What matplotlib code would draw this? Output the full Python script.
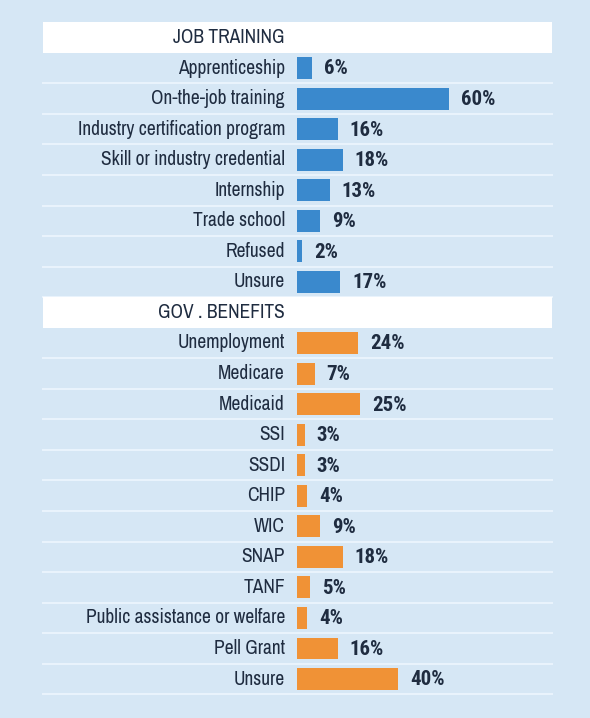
"""Horizontal bar panel: job training and government benefits shares."""

import matplotlib.pyplot as plt

job_labels = [
    "Apprenticeship",
    "On-the-job training",
    "Industry certification program",
    "Skill or industry credential",
    "Internship",
    "Trade school",
    "Refused",
    "Unsure",
]
job_values = [6, 60, 16, 18, 13, 9, 2, 17]

gov_labels = [
    "Unemployment",
    "Medicare",
    "Medicaid",
    "SSI",
    "SSDI",
    "CHIP",
    "WIC",
    "SNAP",
    "TANF",
    "Public assistance or welfare",
    "Pell Grant",
    "Unsure",
]
gov_values = [24, 7, 25, 3, 3, 4, 9, 18, 5, 4, 16, 40]

sections = [
    ("JOB TRAINING", job_labels, job_values, "#3a89cd"),
    ("GOV . BENEFITS", gov_labels, gov_values, "#f09236"),
]

BG = "#d6e7f5"
TEXT = "#1f2c40"
SEP = "#e9f3fc"

FAMILY = ["Archivo Narrow", "DejaVu Sans"]
BOLD_FAMILY = ["Roboto Condensed", "DejaVu Sans"]
FS = 14

fig = plt.figure(figsize=(5.9, 7.18), dpi=100, facecolor=BG)
ax = fig.add_axes([0, 0, 1, 1])
ax.set_facecolor(BG)
ax.axis("off")

# one % of value is ~2.53 px; zero line sits at x=297 px
px_per_pct = 2.533
x0 = 297
ax.set_xlim(-x0 / px_per_pct, (590 - x0) / px_per_pct)
# rows are 30.55 px apart, first row centre at 37 px from top
pitch, top = 30.55, 37.5
ax.set_ylim((718 - top) / pitch, -top / pitch)

band_left = (43 - x0) / px_per_pct
band_right = (552 - x0) / px_per_pct
label_x = (285 - x0) / px_per_pct
gap = 12 / px_per_pct

row = 0
for header, labels, values, color in sections:
    ax.fill_between([band_left, band_right], row - 0.5, row + 0.5, color="white", lw=0, zorder=1)
    ax.text(label_x, row, header, ha="right", va="center", fontsize=FS,
            family=FAMILY, color=TEXT, zorder=3)
    row += 1
    for lab, val in zip(labels, values):
        ax.barh(row, val, height=0.72, color=color, zorder=2)
        ax.text(label_x, row, lab, ha="right", va="center", fontsize=FS,
                family=FAMILY, color=TEXT, zorder=3)
        ax.text(val + gap, row + 0.03, f"{val}%", ha="left", va="center", fontsize=15,
                family=BOLD_FAMILY, fontweight="bold", color=TEXT, zorder=3)
        ax.plot([band_left, band_right], [row + 0.5, row + 0.5], color=SEP, lw=1.5, zorder=1)
        row += 1

fig.savefig("out.png", dpi=100, facecolor=BG)
